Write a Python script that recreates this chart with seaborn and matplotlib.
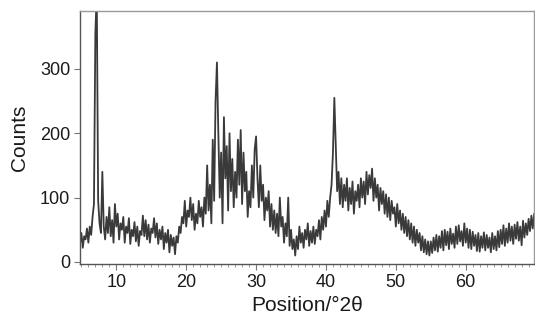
import numpy as np
import pandas as pd
import seaborn as sns
import matplotlib.pyplot as plt
from matplotlib.ticker import MultipleLocator

# XRD pattern, one value every 0.2 degrees from 4.8
start_2theta = 4.8
step_2theta = 0.2
counts = [
    28, 45, 22, 40, 35, 52, 30, 55, 42, 70,
    90, 355, 420, 95, 60, 45, 140, 55, 35, 70,
    45, 85, 40, 65, 30, 90, 55, 75, 35, 60,
    50, 70, 30, 55, 45, 68, 28, 50, 40, 62,
    32, 55, 25, 48, 42, 72, 40, 65, 35, 58,
    30, 52, 45, 68, 38, 60, 28, 50, 35, 55,
    20, 45, 30, 50, 15, 42, 25, 38, 12, 40,
    30, 55, 45, 70, 60, 95, 55, 80, 70, 100,
    65, 90, 50, 75, 60, 95, 70, 85, 55, 100,
    75, 150, 80, 120, 60, 190, 95, 250, 310, 200,
    100, 170, 60, 225, 130, 180, 80, 200, 110, 160,
    85, 140, 100, 190, 120, 205, 90, 170, 110, 140,
    70, 110, 85, 150, 100, 175, 195, 130, 85, 150,
    95, 120, 65, 100, 80, 110, 55, 90, 50, 80,
    45, 75, 40, 100, 55, 70, 30, 60, 40, 100,
    25, 50, 20, 35, 10, 40, 20, 55, 30, 45,
    22, 50, 35, 60, 25, 48, 30, 55, 28, 50,
    40, 65, 35, 70, 50, 80, 55, 95, 70, 100,
    120, 170, 255, 180, 110, 140, 90, 130, 85, 120,
    95, 130, 80, 115, 90, 125, 75, 110, 95, 120,
    85, 130, 100, 125, 90, 140, 105, 135, 115, 145,
    95, 130, 100, 120, 80, 115, 90, 110, 75, 105,
    70, 100, 65, 95, 75, 85, 55, 90, 60, 80,
    50, 75, 45, 70, 40, 65, 35, 60, 30, 55,
    25, 50, 30, 45, 18, 40, 15, 35, 12, 32,
    10, 32, 14, 38, 18, 42, 16, 40, 22, 48,
    18, 50, 26, 47, 20, 52, 28, 44, 22, 55,
    28, 57, 32, 48, 25, 60, 30, 52, 22, 50,
    20, 47, 25, 42, 17, 45, 16, 40, 22, 46,
    18, 42, 22, 38, 15, 45, 20, 40, 18, 48,
    23, 50, 28, 57, 25, 52, 30, 60, 33, 55,
    28, 58, 36, 62, 33, 55, 26, 64, 38, 60,
    42, 67, 48, 72, 52, 75,
]
x_ticks = [10, 20, 30, 40, 50, 60]
y_ticks = [0, 100, 200, 300]

df = pd.DataFrame({"pos": start_2theta + step_2theta * np.arange(len(counts)),
                   "counts": counts})

sns.set_style("ticks")
plt.rcParams["font.family"] = ["Liberation Sans", "DejaVu Sans"]

fig = plt.figure(figsize=(5.35, 3.23), dpi=100)
ax = fig.add_axes([0.1495, 0.183, 0.849, 0.783])
sns.lineplot(data=df, x="pos", y="counts", ax=ax, color="#3a3a3a", linewidth=1.3)

ax.set_xlim(4.8, 69.8)
ax.set_ylim(-3, 390)
ax.set_xticks(x_ticks)
ax.set_yticks(y_ticks)
ax.xaxis.set_minor_locator(MultipleLocator(1))
ax.tick_params(axis="both", labelsize=13, length=4, width=0.8, color="#777777",
               labelcolor="#1a1a1a", pad=3)
ax.tick_params(axis="x", which="minor", length=2.5, width=0.6, color="#888888")
for s in ax.spines.values():
    s.set_color("#999999")
    s.set_linewidth(1.0)
ax.spines["left"].set_color("#555555")
ax.spines["bottom"].set_color("#555555")
ax.set_xlabel("Position/°2θ", fontsize=15, color="#1a1a1a")
ax.set_ylabel("Counts", fontsize=15, color="#1a1a1a")
ax.yaxis.set_label_coords(-0.112, 0.5)
ax.xaxis.set_label_coords(0.5, -0.125)

fig.savefig("out.png", dpi=100)
